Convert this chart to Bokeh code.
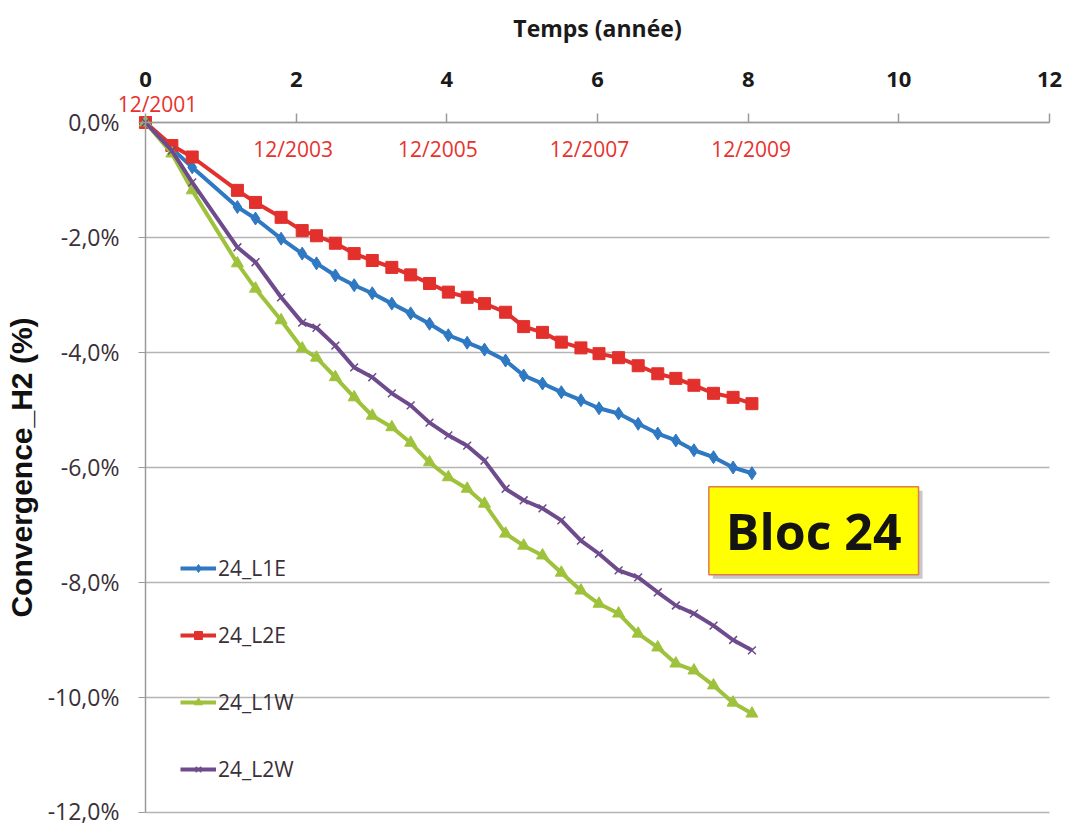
import math
from bokeh.plotting import figure
from bokeh.models import (Range1d, CustomJSTickFormatter, FixedTicker, Label, Legend, LegendItem)
from bokeh.embed import file_html
from bokeh.resources import INLINE

# ---- data ----
years = [0, 0.35, 0.62, 1.22, 1.46, 1.8, 2.08, 2.27, 2.52, 2.77, 3.01, 3.27, 3.52, 3.77, 4.02,
         4.27, 4.5, 4.78, 5.02, 5.27, 5.52, 5.78, 6.02, 6.28, 6.54, 6.8, 7.04, 7.28, 7.54, 7.8, 8.05]
l1e = [0, -0.45, -0.78, -1.47, -1.67, -2.02, -2.28, -2.45, -2.66, -2.83, -2.97, -3.15, -3.32, -3.5, -3.7,
       -3.83, -3.95, -4.14, -4.4, -4.54, -4.69, -4.83, -4.97, -5.06, -5.24, -5.41, -5.53, -5.7, -5.82, -6.0, -6.1]
l2e = [0, -0.4, -0.6, -1.18, -1.39, -1.65, -1.88, -1.97, -2.1, -2.28, -2.4, -2.52, -2.65, -2.8, -2.95,
       -3.04, -3.15, -3.3, -3.55, -3.65, -3.82, -3.92, -4.02, -4.09, -4.23, -4.37, -4.45, -4.57, -4.71, -4.78, -4.89]
l1w = [0, -0.54, -1.18, -2.45, -2.89, -3.44, -3.93, -4.09, -4.43, -4.78, -5.1, -5.3, -5.57, -5.91, -6.17,
       -6.37, -6.63, -7.15, -7.36, -7.53, -7.83, -8.14, -8.37, -8.54, -8.89, -9.13, -9.41, -9.53, -9.79, -10.09, -10.28]
l2w = [0, -0.49, -1.04, -2.17, -2.43, -3.04, -3.48, -3.57, -3.88, -4.26, -4.43, -4.71, -4.92, -5.22, -5.44,
       -5.62, -5.88, -6.37, -6.57, -6.71, -6.92, -7.27, -7.5, -7.79, -7.91, -8.17, -8.4, -8.54, -8.75, -9.0, -9.18]
series_names = ["24_L1E", "24_L2E", "24_L1W", "24_L2W"]
x_ticks = [0, 2, 4, 6, 8, 10, 12]
y_ticks = [0, -2, -4, -6, -8, -10, -12]
date_labels = ["12/2001", "12/2003", "12/2005", "12/2007", "12/2009"]
date_years = [0, 2, 4, 6, 8]
x_title = "Temps (année)"
y_title = "Convergence_H2 (%)"
bloc_text = "Bloc 24"

FONT = "Open Sans"
GRID = "#b4b4b4"
AXIS = "#9a9a9a"

# The frame covers the whole canvas; both axes are pinned to the 0 lines so their
# labels sit inside the frame and nothing is clipped.
p = figure(frame_width=1066, frame_height=826,
           x_range=Range1d(-1.9248, 12.2257), y_range=Range1d(-12.2435, 2.1217),
           x_axis_location="above", output_backend="svg", toolbar_location=None,
           min_border_left=0, min_border_top=0, min_border_right=0, min_border_bottom=0)
p.outline_line_color = None
p.xgrid.visible = False
p.ygrid.visible = False

# horizontal gridlines between x = 0 and x = 12, one per y tick
p.segment(x0=x_ticks[0], x1=x_ticks[-1], y0=y_ticks, y1=y_ticks,
          line_color=GRID, line_width=1.5)

# x axis (top, drawn on the 0 % line)
xa = p.xaxis[0]
xa.fixed_location = 0
xa.bounds = (x_ticks[0], x_ticks[-1])
xa.ticker = FixedTicker(ticks=x_ticks)
xa.major_label_text_font = FONT
xa.major_label_text_font_style = "bold"
xa.major_label_text_font_size = "22px"
xa.major_label_text_color = "#1a1a1a"
xa.major_label_standoff = 26
xa.major_tick_in = 0
xa.major_tick_out = 9
xa.minor_tick_line_color = None
xa.axis_line_color = AXIS
xa.major_tick_line_color = AXIS
xa.axis_line_width = 1.5
xa.major_tick_line_width = 1.5

# y axis (left, drawn on x = 0)
ya = p.yaxis[0]
ya.fixed_location = 0
ya.bounds = (y_ticks[-1], y_ticks[0])
ya.ticker = FixedTicker(ticks=y_ticks)
ya.formatter = CustomJSTickFormatter(code="return tick.toFixed(1).replace('.', ',') + '%';")
ya.major_label_text_font = FONT
ya.major_label_text_font_size = "23px"
ya.major_label_text_color = "#3a3038"
ya.major_label_standoff = 19
ya.major_tick_in = 0
ya.major_tick_out = 7
ya.minor_tick_line_color = None
ya.axis_line_color = AXIS
ya.major_tick_line_color = AXIS
ya.axis_line_width = 1.5

# axis titles
p.add_layout(Label(x=6, y=0, y_offset=94, text=x_title, text_align="center",
                   text_baseline="middle", text_font=FONT, text_font_style="bold",
                   text_font_size="23px", text_color="#1a1a1a"))
p.add_layout(Label(x=0, y=-6, x_offset=-124, text=y_title, angle=math.pi / 2,
                   text_align="center", text_baseline="middle", text_font="Liberation Sans",
                   text_font_style="bold", text_font_size="30px", text_color="#111111"))

styles = [
    (l1e, "#2f78c2", "diamond", 13),
    (l2e, "#e2302d", "square", 12),
    (l1w, "#9fc23c", "triangle", 12),
    (l2w, "#6d4b8c", "x", 11),
]
items = []
for name, (vals, col, mk, sz) in zip(series_names, styles):
    ln = p.line(years, vals, line_color=col, line_width=4)
    if mk == "x":
        sc = p.scatter(years, vals, marker=mk, size=sz, line_color=col, line_width=1.5)
    else:
        sc = p.scatter(years, vals, marker=mk, size=sz, fill_color=col, line_color=col)
    items.append(LegendItem(label=name, renderers=[ln, sc]))

legend = Legend(items=items, location=(170, 33), glyph_width=36, glyph_height=20,
                label_height=20, spacing=39, padding=10, label_standoff=2,
                label_text_font=FONT, label_text_font_size="21px", label_text_color="#3a3038",
                background_fill_alpha=0, border_line_alpha=0)
p.add_layout(legend, "center")

# red date annotations
x_offs = [12, -3, -9, -8, 3]
y_offs = [18, -27, -27, -27, -27]
for lab, yr, xo, yo in zip(date_labels, date_years, x_offs, y_offs):
    p.add_layout(Label(x=yr, y=0, x_offset=xo, y_offset=yo, text=lab, text_align="center",
                       text_baseline="middle", text_font=FONT, text_font_size="21px",
                       text_color="#e8322e"))

# Bloc 24 box (shadow + box)
shadow = Label(x=8.87, y=-7.1, x_offset=4, y_offset=-4, text=bloc_text, text_align="center",
               text_baseline="middle", text_font=FONT, text_font_style="bold",
               text_font_size="50px", text_color="#c8c8c8",
               background_fill_color="#c8c8c8", padding=(17, 10))
p.add_layout(shadow)
bloc = Label(x=8.87, y=-7.1, text=bloc_text, text_align="center", text_baseline="middle",
             text_font=FONT, text_font_style="bold", text_font_size="50px", text_color="#141414",
             background_fill_color="#ffff00", border_line_color="#e07a50", border_line_width=1.5,
             padding=(17, 10))
p.add_layout(bloc)

open("out.html", "w").write(file_html(p, INLINE))
